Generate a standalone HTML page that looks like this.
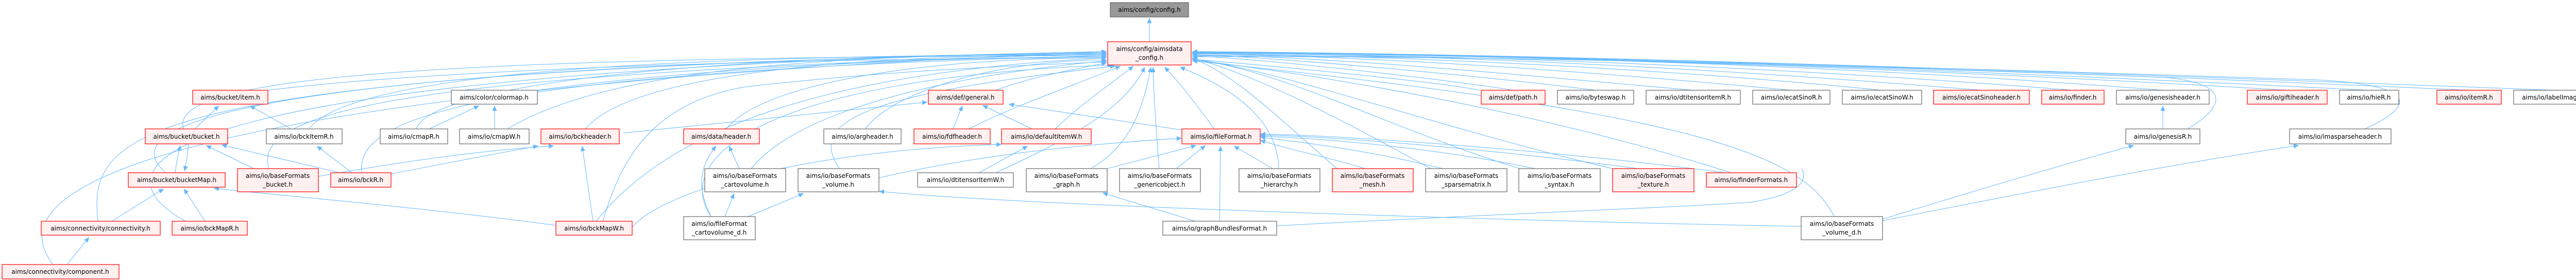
<!DOCTYPE html>
<html><head><meta charset="utf-8"><style>
html,body{margin:0;padding:0;background:#fff;}
svg{display:block;}
text{font-family:"DejaVu Sans","Liberation Sans",sans-serif;font-size:12px;fill:#000;}
.g{fill:#fff;stroke:#666;stroke-width:1.2;}
.r{fill:#fff0f0;stroke:#f00;stroke-width:1.2;}
.t{fill:#999;stroke:#666;stroke-width:1.2;}
.e{fill:none;stroke:#63b8ff;stroke-width:1;marker-end:url(#a);}
.n{fill:none;stroke:#63b8ff;stroke-width:1;}
</style></head><body>
<svg width="5043" height="543" viewBox="0 0 5043 543" xmlns="http://www.w3.org/2000/svg">
<defs><marker id="a" markerUnits="userSpaceOnUse" markerWidth="11" markerHeight="9" refX="10" refY="4.5" orient="auto"><path d="M0,0 L10,4.5 L0,9 z" fill="#63b8ff"/></marker></defs>

<path class="e" d="M2231,81 L2231,35"/>
<path class="e" d="M520,175 C800,140 1400,114 2148,112"/>
<path class="e" d="M1043,175 C1300,140 1700,112 2148,110"/>
<path class="e" d="M356,250 C330,160 700,110 2148,108"/>
<path class="e" d="M600,250 C680,140 1300,106 2148,106"/>
<path class="e" d="M808,250 C840,160 1400,104 2148,104"/>
<path class="e" d="M985,250 C1150,150 1500,104 2148,104"/>
<path class="e" d="M1136,250 C1220,150 1600,106 2148,106"/>
<path class="e" d="M1410,250 C1480,160 1800,112 2148,112"/>
<path class="e" d="M1680,250 C1720,190 1900,118 2148,116"/>
<path class="e" d="M1932,175 C2000,150 2080,135 2148,122"/>
<path class="e" d="M1880,250 C1980,200 2100,160 2175,128"/>
<path class="e" d="M2048,250 C2100,200 2160,160 2200,128"/>
<path class="e" d="M322,335 C220,250 400,130 2148,102"/>
<path class="e" d="M522,327 C480,200 900,140 2148,104"/>
<path class="e" d="M702,335 C690,230 900,140 2148,108"/>
<path class="e" d="M1458,327 C1560,200 1900,140 2148,118"/>
<path class="e" d="M1630,327 C1560,230 1700,180 2165,128"/>
<path class="e" d="M1933,335 C2050,280 2180,220 2222,130"/>
<path class="e" d="M2117,327 C2200,280 2220,200 2234,130"/>
<path class="e" d="M2250,327 C2245,260 2240,200 2238,130"/>
<path class="e" d="M2357,250 C2320,200 2290,160 2260,130"/>
<path class="e" d="M2482,327 C2480,230 2390,170 2290,130"/>
<path class="e" d="M190,429 C170,250 260,140 2148,100"/>
<path class="e" d="M360,429 C180,330 230,140 2148,100"/>
<path class="e" d="M1157,429 C1300,250 1600,140 2148,112"/>
<path class="e" d="M103,513 C30,420 25,190 2148,100"/>
<path class="e" d="M1380,420 C1300,300 1500,150 2160,126"/>
<path class="e" d="M2595,327 C2450,200 2400,150 2314,112"/>
<path class="e" d="M2777,327 C2600,230 2450,150 2314,112"/>
<path class="e" d="M2950,327 C2700,250 2500,140 2314,114"/>
<path class="e" d="M3130,327 C2800,250 2500,140 2314,114"/>
<path class="e" d="M3360,335 C3000,220 2600,150 2314,116"/>
<path class="e" d="M2937,175 C2850,160 2500,118 2314,108"/>
<path class="e" d="M3097,175 C2900,150 2500,112 2314,106"/>
<path class="e" d="M3286,175 C3000,150 2600,110 2314,106"/>
<path class="e" d="M3477,175 C3100,140 2700,110 2314,104"/>
<path class="e" d="M3653,175 C3200,130 2700,108 2314,104"/>
<path class="e" d="M3846,175 C3300,130 2800,106 2314,103"/>
<path class="e" d="M4023,175 C3400,125 2800,106 2314,103"/>
<path class="e" d="M4198,175 C3500,120 2800,105 2314,102"/>
<path class="e" d="M4440,175 C3600,125 2800,104 2314,102"/>
<path class="e" d="M4598,175 C3700,130 2900,104 2314,101"/>
<path class="e" d="M4792,175 C3800,130 2900,104 2314,101"/>
<path class="e" d="M4958,175 C3900,135 3000,104 2314,100"/>
<path class="e" d="M4246,250 C4330,200 4320,160 4200,150 C3400,120 2800,108 2314,108"/>
<path class="e" d="M4590,250 C4700,200 4680,165 4500,155 C3600,125 2900,108 2314,110"/>
<path class="e" d="M3560,420 C3500,300 3300,220 2314,118"/>
<path class="n" d="M2872,175 C2800,160 2500,130 2314,115"/>
<path class="e" d="M378,250 L425,205"/>
<path class="e" d="M565,250 L485,205"/>
<path class="e" d="M340,335 C343,310 346,300 350,282"/>
<path class="e" d="M366,279 C364,300 362,315 358,332"/>
<path class="e" d="M493,327 L400,282"/>
<path class="e" d="M660,335 L430,281"/>
<path class="e" d="M683,335 L615,283"/>
<path class="e" d="M217,429 L318,366"/>
<path class="e" d="M398,429 L357,366"/>
<path class="e" d="M1079,437 C800,400 550,380 415,365"/>
<path class="e" d="M130,513 L173,460"/>
<path class="e" d="M833,250 L930,205"/>
<path class="e" d="M960,250 L960,205"/>
<path class="e" d="M1151,429 L1130,283"/>
<path class="e" d="M759,337 C850,320 950,300 1045,283"/>
<path class="e" d="M618,342 C800,310 950,290 1075,283"/>
<path class="e" d="M1170,429 C1200,330 1250,200 1450,168 C1700,140 1900,130 2148,120"/>
<path class="e" d="M1435,327 L1415,283"/>
<path class="e" d="M1380,420 C1350,360 1360,320 1390,283"/>
<path class="e" d="M1407,420 L1425,375"/>
<path class="e" d="M1452,420 L1560,375"/>
<path class="e" d="M1850,250 L1868,205"/>
<path class="e" d="M2003,250 L1907,204"/>
<path class="e" d="M2294,252 L1958,202"/>
<path class="e" d="M1210,258 C1400,240 1600,220 1800,198"/>
<path class="e" d="M1900,335 L1995,283"/>
<path class="e" d="M1227,440 C1300,360 1600,290 1944,280"/>
<path class="e" d="M2470,327 L2395,283"/>
<path class="e" d="M2283,327 L2340,282"/>
<path class="e" d="M2149,327 L2322,282"/>
<path class="e" d="M2367,429 L2369,283"/>
<path class="e" d="M2650,327 C2560,300 2500,290 2446,272"/>
<path class="e" d="M2800,327 C2650,290 2520,275 2446,266"/>
<path class="e" d="M2980,327 C2800,290 2600,270 2446,264"/>
<path class="e" d="M3180,327 C2900,290 2600,265 2446,262"/>
<path class="e" d="M3350,335 C3000,290 2600,262 2446,260"/>
<path class="e" d="M1706,345 C1900,300 2100,280 2294,268"/>
<path class="e" d="M2320,429 L2140,374"/>
<path class="e" d="M3496,439 C3000,430 2000,400 1706,371"/>
<path class="n" d="M2478,438 C2800,420 3300,400 3400,392 C3500,375 3508,348 3497,327"/>
<path class="e" d="M3654,425 C3800,380 4000,320 4142,282"/>
<path class="e" d="M3654,428 C3900,380 4200,320 4462,282"/>
<path class="e" d="M4198,250 L4198,205"/>

<rect class="t" x="2155" y="5" width="152" height="28"/><text x="2231" y="23" text-anchor="middle">aims/config/config.h</text>
<rect class="r" x="2150" y="81" width="162" height="45"/><text x="2231" y="99" text-anchor="middle">aims/config/aimsdata</text><text x="2231" y="116" text-anchor="middle">_config.h</text>

<rect class="r" x="374" y="175" width="146" height="27"/><text x="447" y="193" text-anchor="middle">aims/bucket/item.h</text>
<rect class="g" x="876" y="175" width="167" height="27"/><text x="959" y="193" text-anchor="middle">aims/color/colormap.h</text>
<rect class="r" x="1802" y="175" width="145" height="27"/><text x="1874" y="193" text-anchor="middle">aims/def/general.h</text>
<rect class="r" x="2875" y="175" width="124" height="27"/><text x="2937" y="193" text-anchor="middle">aims/def/path.h</text>
<rect class="g" x="3023" y="175" width="148" height="27"/><text x="3097" y="193" text-anchor="middle">aims/io/byteswap.h</text>
<rect class="g" x="3195" y="175" width="183" height="27"/><text x="3286" y="193" text-anchor="middle">aims/io/dtitensorItemR.h</text>
<rect class="g" x="3402" y="175" width="150" height="27"/><text x="3477" y="193" text-anchor="middle">aims/io/ecatSinoR.h</text>
<rect class="g" x="3576" y="175" width="154" height="27"/><text x="3653" y="193" text-anchor="middle">aims/io/ecatSinoW.h</text>
<rect class="r" x="3753" y="175" width="186" height="27"/><text x="3846" y="193" text-anchor="middle">aims/io/ecatSinoheader.h</text>
<rect class="r" x="3963" y="175" width="121" height="27"/><text x="4023" y="193" text-anchor="middle">aims/io/finder.h</text>
<rect class="g" x="4108" y="175" width="180" height="27"/><text x="4198" y="193" text-anchor="middle">aims/io/genesisheader.h</text>
<rect class="r" x="4362" y="175" width="155" height="27"/><text x="4440" y="193" text-anchor="middle">aims/io/giftiheader.h</text>
<rect class="g" x="4541" y="175" width="115" height="27"/><text x="4598" y="193" text-anchor="middle">aims/io/hieR.h</text>
<rect class="r" x="4730" y="175" width="125" height="27"/><text x="4792" y="193" text-anchor="middle">aims/io/itemR.h</text>
<rect class="g" x="4879" y="175" width="159" height="27"/><text x="4958" y="193" text-anchor="middle">aims/io/labelImage.h</text>

<rect class="r" x="282" y="250" width="160" height="29"/><text x="362" y="269" text-anchor="middle">aims/bucket/bucket.h</text>
<rect class="g" x="517" y="250" width="147" height="29"/><text x="590" y="269" text-anchor="middle">aims/io/bckItemR.h</text>
<rect class="g" x="738" y="250" width="131" height="29"/><text x="803" y="269" text-anchor="middle">aims/io/cmapR.h</text>
<rect class="g" x="892" y="250" width="135" height="29"/><text x="959" y="269" text-anchor="middle">aims/io/cmapW.h</text>
<rect class="r" x="1050" y="250" width="152" height="29"/><text x="1126" y="269" text-anchor="middle">aims/io/bckheader.h</text>
<rect class="r" x="1327" y="250" width="147" height="29"/><text x="1400" y="269" text-anchor="middle">aims/data/header.h</text>
<rect class="g" x="1599" y="250" width="150" height="29"/><text x="1674" y="269" text-anchor="middle">aims/io/argheader.h</text>
<rect class="r" x="1774" y="250" width="148" height="29"/><text x="1848" y="269" text-anchor="middle">aims/io/fdfheader.h</text>
<rect class="r" x="1944" y="250" width="174" height="29"/><text x="2031" y="269" text-anchor="middle">aims/io/defaultItemW.h</text>
<rect class="r" x="2294" y="250" width="152" height="29"/><text x="2370" y="269" text-anchor="middle">aims/io/fileFormat.h</text>
<rect class="g" x="4126" y="250" width="144" height="29"/><text x="4198" y="269" text-anchor="middle">aims/io/genesisR.h</text>
<rect class="g" x="4444" y="250" width="197" height="29"/><text x="4542" y="269" text-anchor="middle">aims/io/imasparseheader.h</text>

<rect class="r" x="249" y="335" width="188" height="28"/><text x="343" y="353" text-anchor="middle">aims/bucket/bucketMap.h</text>
<rect class="r" x="461" y="327" width="157" height="45"/><text x="539" y="345" text-anchor="middle">aims/io/baseFormats</text><text x="539" y="362" text-anchor="middle">_bucket.h</text>
<rect class="r" x="642" y="335" width="117" height="28"/><text x="700" y="353" text-anchor="middle">aims/io/bckR.h</text>
<rect class="g" x="1368" y="327" width="157" height="45"/><text x="1446" y="345" text-anchor="middle">aims/io/baseFormats</text><text x="1446" y="362" text-anchor="middle">_cartovolume.h</text>
<rect class="g" x="1549" y="327" width="157" height="45"/><text x="1627" y="345" text-anchor="middle">aims/io/baseFormats</text><text x="1627" y="362" text-anchor="middle">_volume.h</text>
<rect class="g" x="1781" y="335" width="186" height="28"/><text x="1874" y="353" text-anchor="middle">aims/io/dtitensorItemW.h</text>
<rect class="g" x="1992" y="327" width="157" height="45"/><text x="2070" y="345" text-anchor="middle">aims/io/baseFormats</text><text x="2070" y="362" text-anchor="middle">_graph.h</text>
<rect class="g" x="2173" y="327" width="157" height="45"/><text x="2251" y="345" text-anchor="middle">aims/io/baseFormats</text><text x="2251" y="362" text-anchor="middle">_genericobject.h</text>
<rect class="g" x="2405" y="327" width="157" height="45"/><text x="2483" y="345" text-anchor="middle">aims/io/baseFormats</text><text x="2483" y="362" text-anchor="middle">_hierarchy.h</text>
<rect class="r" x="2586" y="327" width="157" height="45"/><text x="2664" y="345" text-anchor="middle">aims/io/baseFormats</text><text x="2664" y="362" text-anchor="middle">_mesh.h</text>
<rect class="g" x="2767" y="327" width="158" height="45"/><text x="2846" y="345" text-anchor="middle">aims/io/baseFormats</text><text x="2846" y="362" text-anchor="middle">_sparsematrix.h</text>
<rect class="g" x="2948" y="327" width="158" height="45"/><text x="3027" y="345" text-anchor="middle">aims/io/baseFormats</text><text x="3027" y="362" text-anchor="middle">_syntax.h</text>
<rect class="r" x="3130" y="327" width="158" height="45"/><text x="3209" y="345" text-anchor="middle">aims/io/baseFormats</text><text x="3209" y="362" text-anchor="middle">_texture.h</text>
<rect class="r" x="3312" y="335" width="175" height="28"/><text x="3399" y="353" text-anchor="middle">aims/io/finderFormats.h</text>

<rect class="r" x="80" y="429" width="231" height="27"/><text x="195" y="447" text-anchor="middle">aims/connectivity/connectivity.h</text>
<rect class="r" x="334" y="429" width="146" height="27"/><text x="407" y="447" text-anchor="middle">aims/io/bckMapR.h</text>
<rect class="r" x="1079" y="429" width="148" height="27"/><text x="1153" y="447" text-anchor="middle">aims/io/bckMapW.h</text>
<rect class="g" x="1327" y="420" width="139" height="45"/><text x="1396" y="438" text-anchor="middle">aims/io/fileFormat</text><text x="1396" y="455" text-anchor="middle">_cartovolume_d.h</text>
<rect class="g" x="2257" y="429" width="221" height="27"/><text x="2367" y="447" text-anchor="middle">aims/io/graphBundlesFormat.h</text>
<rect class="g" x="3496" y="420" width="158" height="45"/><text x="3575" y="438" text-anchor="middle">aims/io/baseFormats</text><text x="3575" y="455" text-anchor="middle">_volume_d.h</text>

<rect class="r" x="4" y="513" width="227" height="28"/><text x="117" y="531" text-anchor="middle">aims/connectivity/component.h</text>
</svg>
</body></html>
